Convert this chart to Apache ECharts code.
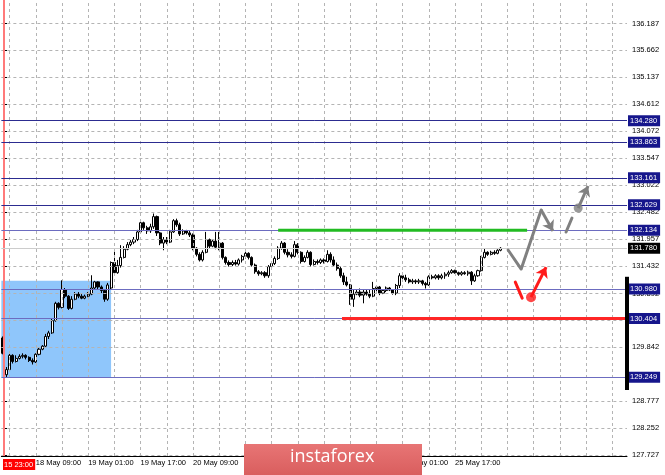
<!DOCTYPE html>
<html>
<head>
<meta charset="utf-8">
<title>H1 chart</title>
<script src="https://cdn.jsdelivr.net/npm/echarts@6/dist/echarts.min.js"></script>
<style>
  html, body { margin: 0; padding: 0; background: #fff; }
  #chart { width: 665px; height: 475px; }
</style>
</head>
<body>
<div id="chart"></div>
<script>
// price scale labels on the right
const yTicks = [136.187, 135.662, 135.137, 134.612, 134.072, 133.547, 133.022, 132.482,
  131.957, 131.432, 130.892, 130.367, 129.842, 128.777, 128.252, 127.727]

// horizontal levels
const darkLevels = [134.280, 133.863, 133.161, 132.629]
const lightLevels = [132.134, 130.980, 130.404, 129.249]
const bidPrice = 131.780

// first bar time (red marker) and month names for the time scale
const startLabel = '2020.05.15 23:00'
const monthNames = ['Jan', 'Feb', 'Mar', 'Apr', 'May', 'Jun', 'Jul', 'Aug', 'Sep', 'Oct', 'Nov', 'Dec']

// hourly bars: [open, close, low, high]
const ohlc = [
  [130.02, 129.72, 129.70, 130.05], [129.30, 129.40, 129.24, 129.45], [129.40, 129.68, 129.38, 129.74],
  [129.68, 129.56, 129.52, 129.70], [129.56, 129.62, 129.54, 129.68], [129.62, 129.66, 129.60, 129.70],
  [129.66, 129.68, 129.62, 129.72], [129.68, 129.64, 129.60, 129.70], [129.64, 129.58, 129.55, 129.66],
  [129.58, 129.55, 129.50, 129.62], [129.55, 129.70, 129.53, 129.72], [129.70, 129.80, 129.68, 129.83],
  [129.80, 129.86, 129.78, 129.88], [129.86, 130.05, 129.84, 130.10], [130.05, 130.12, 130.00, 130.16],
  [130.12, 130.36, 130.10, 130.40], [130.36, 130.70, 130.34, 130.73], [130.70, 130.62, 130.58, 130.72],
  [130.62, 130.97, 130.60, 131.15], [130.97, 130.84, 130.80, 131.00], [130.84, 130.60, 130.57, 130.86],
  [130.60, 130.78, 130.58, 130.84], [130.78, 130.88, 130.76, 130.92], [130.88, 130.84, 130.80, 130.92],
  [130.84, 130.80, 130.78, 130.88], [130.80, 130.84, 130.78, 130.87], [130.84, 130.88, 130.82, 130.92],
  [130.88, 131.00, 130.86, 131.25], [131.00, 131.12, 130.98, 131.14], [131.12, 131.02, 130.98, 131.13],
  [131.02, 130.95, 130.90, 131.05], [130.95, 130.78, 130.73, 130.98], [130.78, 131.06, 130.75, 131.10],
  [131.00, 131.50, 130.98, 131.52], [131.50, 131.30, 131.28, 131.73], [131.30, 131.44, 131.28, 131.55],
  [131.44, 131.60, 131.40, 131.84], [131.60, 131.76, 131.58, 131.82], [131.76, 131.85, 131.74, 131.90],
  [131.85, 131.90, 131.82, 131.94], [131.90, 131.95, 131.86, 132.00], [131.95, 132.10, 131.92, 132.14],
  [132.10, 132.28, 132.06, 132.30], [132.28, 132.18, 132.14, 132.30], [132.18, 132.12, 132.06, 132.22],
  [132.12, 132.20, 132.08, 132.26], [132.20, 132.40, 132.16, 132.46], [132.40, 132.08, 132.02, 132.42],
  [132.08, 131.88, 131.84, 132.10], [131.88, 131.95, 131.74, 132.00], [131.95, 131.90, 131.86, 132.00],
  [131.90, 132.10, 131.88, 132.14], [132.10, 132.32, 132.08, 132.35], [132.32, 132.24, 132.20, 132.36],
  [132.24, 132.06, 132.02, 132.28], [132.06, 132.12, 132.04, 132.15], [132.12, 132.08, 132.05, 132.14],
  [132.08, 132.04, 132.00, 132.12], [132.04, 131.78, 131.74, 132.07], [131.78, 131.66, 131.62, 131.80],
  [131.66, 131.55, 131.52, 131.70], [131.55, 131.70, 131.52, 131.74], [131.70, 131.95, 131.68, 132.10],
  [131.95, 131.82, 131.78, 131.97], [131.82, 131.92, 131.80, 131.96], [131.92, 131.80, 131.76, 132.10],
  [131.80, 131.88, 131.74, 132.10], [131.88, 131.60, 131.56, 131.90], [131.60, 131.50, 131.46, 131.62],
  [131.50, 131.46, 131.42, 131.54], [131.46, 131.50, 131.43, 131.54], [131.50, 131.47, 131.44, 131.55],
  [131.47, 131.55, 131.44, 131.58], [131.55, 131.62, 131.50, 131.65], [131.62, 131.68, 131.58, 131.72],
  [131.68, 131.60, 131.56, 131.70], [131.60, 131.45, 131.42, 131.62], [131.45, 131.32, 131.28, 131.48],
  [131.32, 131.28, 131.24, 131.35], [131.28, 131.30, 131.25, 131.33], [131.30, 131.24, 131.20, 131.33],
  [131.24, 131.42, 131.20, 131.45], [131.42, 131.48, 131.38, 131.52], [131.48, 131.58, 131.45, 131.62],
  [131.58, 131.78, 131.55, 131.82], [131.78, 131.88, 131.75, 131.92], [131.88, 131.70, 131.66, 131.90],
  [131.70, 131.65, 131.60, 131.76], [131.65, 131.62, 131.58, 131.70], [131.62, 131.85, 131.60, 131.92],
  [131.85, 131.70, 131.66, 131.88], [131.70, 131.52, 131.48, 131.72], [131.52, 131.60, 131.50, 131.64],
  [131.60, 131.70, 131.58, 131.74], [131.70, 131.46, 131.42, 131.72], [131.46, 131.52, 131.44, 131.56],
  [131.52, 131.50, 131.46, 131.56], [131.50, 131.55, 131.47, 131.58], [131.55, 131.52, 131.48, 131.58],
  [131.52, 131.66, 131.50, 131.74], [131.66, 131.55, 131.50, 131.70], [131.55, 131.45, 131.42, 131.62],
  [131.45, 131.38, 131.34, 131.50], [131.38, 131.24, 131.20, 131.42], [131.24, 131.12, 131.06, 131.30],
  [131.12, 131.06, 131.03, 131.22], [131.06, 130.78, 130.67, 131.08], [130.78, 130.88, 130.63, 130.96],
  [130.88, 130.92, 130.86, 130.97], [130.92, 130.86, 130.82, 130.99], [130.86, 130.92, 130.70, 130.96],
  [130.92, 130.88, 130.85, 130.97], [130.88, 130.84, 130.80, 130.96], [130.84, 130.99, 130.82, 131.12],
  [130.99, 131.02, 130.93, 131.05], [131.02, 130.90, 130.86, 131.04], [130.90, 130.95, 130.88, 130.98],
  [130.95, 131.00, 130.92, 131.03], [131.00, 130.96, 130.94, 131.02], [130.96, 130.90, 130.87, 130.98],
  [130.90, 131.05, 130.86, 131.08], [131.05, 131.24, 131.00, 131.29], [131.24, 131.20, 131.16, 131.30],
  [131.20, 131.16, 131.12, 131.26], [131.16, 131.12, 131.09, 131.20], [131.12, 131.14, 131.08, 131.18],
  [131.14, 131.12, 131.08, 131.17], [131.12, 131.14, 131.08, 131.18], [131.14, 131.09, 131.05, 131.16],
  [131.09, 131.06, 130.99, 131.12], [131.06, 131.22, 131.04, 131.25], [131.22, 131.20, 131.17, 131.26],
  [131.20, 131.24, 131.17, 131.27], [131.24, 131.20, 131.16, 131.27], [131.20, 131.24, 131.17, 131.28],
  [131.24, 131.27, 131.18, 131.31], [131.27, 131.30, 131.22, 131.34], [131.30, 131.34, 131.28, 131.37],
  [131.34, 131.30, 131.28, 131.36], [131.30, 131.27, 131.24, 131.32], [131.27, 131.30, 131.24, 131.33],
  [131.30, 131.28, 131.26, 131.33], [131.28, 131.31, 131.24, 131.34], [131.31, 131.14, 131.06, 131.33],
  [131.14, 131.24, 131.12, 131.28], [131.24, 131.34, 131.22, 131.36], [131.34, 131.60, 131.32, 131.63],
  [131.60, 131.70, 131.58, 131.77], [131.70, 131.66, 131.63, 131.72], [131.66, 131.70, 131.64, 131.73],
  [131.70, 131.68, 131.65, 131.74], [131.68, 131.74, 131.66, 131.76], [131.74, 131.78, 131.72, 131.80]
]

// drawn objects, in [bar index, price]
const blueZone = [[-0.5, 129.249], [33, 131.14]]
const greenLine = [[84, 132.134], [160, 132.134]]
const redLine = [[103.5, 130.404], [190.5, 130.404]]
const grayPath = [[154.2, 131.745], [158.2, 131.372], [164.3, 132.529]]
const grayArrow = [[164.3, 132.529], [167.9, 132.117]]
const grayTick = [[171.9, 132.098], [173.7, 132.372]]
const grayDot = [175.6, 132.568]
const grayArrow2 = [[175.6, 132.568], [178.6, 133.0]]
const redTick = [[156.4, 131.116], [158.5, 130.80]]
const redDot = [161.2, 130.82]
const redArrow = [[161.2, 130.82], [165.8, 131.41]]
const scaleMarker = [[190.5, 131.22], [190.5, 129.0]]

const totalBars = 191
const font = 'Liberation Sans'

// hourly time labels, weekends skipped
const categories = []
let t = Date.UTC(2020, 4, 15, 23)
for (let i = 0; i < totalBars; i++) {
  if (i < ohlc.length) {
    const d = new Date(t)
    const hh = String(d.getUTCHours()).padStart(2, '0')
    categories.push(d.getUTCDate() + ' ' + monthNames[d.getUTCMonth()] + ' ' + hh + ':00')
    t += 3600e3
    while ([0, 6].includes(new Date(t).getUTCDay())) t += 3600e3
  } else {
    categories.push('')
  }
}

const isTimeTick = (i) => i >= 10 && (i - 10) % 16 === 0 && i < ohlc.length
const gridX = []
for (let i = 2; i < totalBars; i += 8) gridX.push(i)

const dashed = { color: '#b4b4b4', width: 1, type: [3, 3] }

const levelItem = (v, color) => ({
  yAxis: v,
  name: v.toFixed(3),
  lineStyle: { color: color, width: 1, type: 'solid' }
})

const chart = echarts.init(document.getElementById('chart'))

chart.setOption({
  animation: false,
  backgroundColor: '#fff',
  grid: { left: 0, right: 38, top: 0, bottom: 19 },
  xAxis: [
    {
      type: 'category',
      data: categories,
      boundaryGap: true,
      axisLine: { lineStyle: { color: '#000', width: 1 } },
      axisTick: {
        alignWithLabel: true,
        length: 4,
        interval: (i) => isTimeTick(i),
        lineStyle: { color: '#000' }
      },
      axisLabel: {
        interval: (i) => i === 0 || isTimeTick(i),
        showMinLabel: true,
        align: 'left',
        margin: 3,
        fontSize: 7.5,
        fontFamily: font,
        color: '#000',
        formatter: (val, i) => (i === 0 ? '{start|' + startLabel.slice(-8) + '}' : val),
        rich: {
          start: {
            backgroundColor: '#ff0000',
            color: '#fff',
            fontSize: 7.5,
            fontFamily: font,
            padding: [2, 2, 1, 1]
          }
        }
      },
      splitLine: { show: false }
    },
    { type: 'value', min: -0.5, max: totalBars - 0.5, show: false }
  ],
  yAxis: {
    type: 'value',
    position: 'right',
    min: 127.706,
    max: 136.647,
    axisLine: { show: true, lineStyle: { color: '#000' } },
    axisTick: { show: true, length: 4, customValues: yTicks, lineStyle: { color: '#000' } },
    axisLabel: {
      customValues: yTicks,
      formatter: (v) => Number(v).toFixed(3),
      margin: 5,
      fontSize: 7.5,
      fontFamily: font,
      color: '#000'
    },
    splitLine: { show: false }
  },
  series: [
    // blue rectangle
    {
      name: 'zone', type: 'line', xAxisIndex: 1, data: [], z: 1, silent: true,
      markArea: {
        silent: true,
        itemStyle: { color: '#8fc6fb' },
        data: [[{ coord: blueZone[0] }, { coord: blueZone[1] }]]
      }
    },
    // dashed grid
    {
      name: 'gridH', type: 'line', xAxisIndex: 1, data: [], z: 2, silent: true,
      markLine: {
        silent: true, symbol: 'none', label: { show: false },
        data: yTicks.map((v) => ({ yAxis: v, lineStyle: dashed }))
      }
    },
    {
      name: 'gridV', type: 'line', xAxisIndex: 1, data: [], z: 2, silent: true,
      markLine: {
        silent: true, symbol: 'none', label: { show: false },
        data: gridX.map((v) => ({ xAxis: v, lineStyle: dashed }))
      }
    },
    // start-of-data marker
    {
      name: 'start', type: 'line', xAxisIndex: 1, data: [], z: 2, silent: true,
      markLine: {
        silent: true, symbol: 'none', label: { show: false },
        lineStyle: { color: '#ff7a7a', width: 2, type: 'solid' },
        data: [{ xAxis: 0.1 }]
      }
    },
    // price levels with labels on the scale
    {
      name: 'levels', type: 'line', xAxisIndex: 1, data: [], z: 4, silent: true,
      markLine: {
        silent: true, symbol: 'none',
        label: {
          position: 'end', distance: 1,
          formatter: (p) => p.name,
          color: '#fff', backgroundColor: '#16168c',
          padding: [2, 3, 1, 2], fontSize: 7.5, fontFamily: font
        },
        data: [
          ...darkLevels.map((v) => levelItem(v, '#2c2c90')),
          ...lightLevels.map((v) => levelItem(v, '#6c6cc0')),
          Object.assign(levelItem(bidPrice, '#cccccc'), { label: { backgroundColor: '#000' } })
        ]
      }
    },
    {
      name: 'bars', type: 'candlestick', data: ohlc, z: 3, barWidth: 2.6,
      itemStyle: {
        color: '#ffffff', color0: '#000000',
        borderColor: '#000000', borderColor0: '#000000', borderWidth: 1
      }
    },
    {
      name: 'green', type: 'line', xAxisIndex: 1, data: greenLine, z: 5, symbol: 'none', silent: true,
      lineStyle: { color: '#22bb22', width: 3 }
    },
    {
      name: 'red', type: 'line', xAxisIndex: 1, data: redLine, z: 5, symbol: 'none', silent: true,
      lineStyle: { color: '#ff2626', width: 3 }
    },
    {
      name: 'marker', type: 'line', xAxisIndex: 1, data: scaleMarker, z: 6, symbol: 'none', silent: true,
      clip: false, lineStyle: { color: '#000', width: 4 }
    },
    // forecast paths
    {
      name: 'grayPath', type: 'line', xAxisIndex: 1, data: grayPath, z: 6, symbol: 'none', silent: true,
      lineStyle: { color: '#808080', width: 3, join: 'round', cap: 'round' }
    },
    {
      name: 'grayTick', type: 'line', xAxisIndex: 1, data: grayTick, z: 6, symbol: 'none', silent: true,
      lineStyle: { color: '#808080', width: 3, cap: 'round' }
    },
    {
      name: 'redTick', type: 'line', xAxisIndex: 1, data: redTick, z: 6, symbol: 'none', silent: true,
      lineStyle: { color: '#ff1a1a', width: 3, cap: 'round' }
    },
    {
      name: 'grayArrows', type: 'lines', coordinateSystem: 'cartesian2d', xAxisIndex: 1, yAxisIndex: 0,
      z: 6, silent: true, symbol: ['none', 'arrow'], symbolSize: 10,
      lineStyle: { color: '#808080', width: 3, opacity: 1, curveness: 0 },
      data: [{ coords: grayArrow }, { coords: grayArrow2 }]
    },
    {
      name: 'redArrows', type: 'lines', coordinateSystem: 'cartesian2d', xAxisIndex: 1, yAxisIndex: 0,
      z: 6, silent: true, symbol: ['none', 'arrow'], symbolSize: 10,
      lineStyle: { color: '#ff1a1a', width: 3, opacity: 1, curveness: 0 },
      data: [{ coords: redArrow }]
    },
    {
      name: 'dots', type: 'scatter', xAxisIndex: 1, z: 7, silent: true,
      data: [
        { value: grayDot, symbolSize: 9, itemStyle: { color: '#808080' } },
        { value: redDot, symbolSize: 10, itemStyle: { color: '#ff1a1a' } }
      ]
    }
  ],
  graphic: [
    {
      type: 'rect', left: 244, top: 444, z: 100, zlevel: 1,
      shape: { width: 178, height: 31 },
      style: {
        fill: new echarts.graphic.LinearGradient(0, 0, 0, 1, [
          { offset: 0, color: '#e87575' },
          { offset: 1, color: '#d95e5e' }
        ])
      }
    },
    {
      type: 'text', left: 290, top: 448, z: 101, zlevel: 1,
      style: {
        text: 'instaforex',
        fill: '#fff', font: '18px "Open Sans"'
      }
    }
  ]
})
</script>
</body>
</html>
